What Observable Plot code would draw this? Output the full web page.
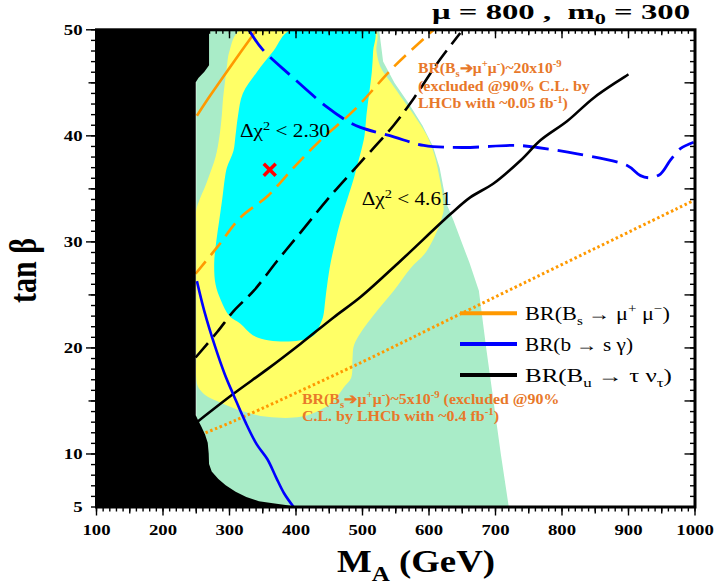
<!DOCTYPE html>
<html><head><meta charset="utf-8">
<script src="https://cdn.jsdelivr.net/npm/d3@7"></script>
<script src="https://cdn.jsdelivr.net/npm/@observablehq/plot@0.6"></script>
<style>body{margin:0;background:#fff}#chart{width:718px;height:587px}</style>
</head><body><div id="chart"></div>
<script>
// ---------- data (M_A in GeV, tan beta) ----------
const xDomain = [100, 1000];
const yDomain = [5, 50];
const xTickLabels = [100, 200, 300, 400, 500, 600, 700, 800, 900, 1000];
const xMajor = [100, 200, 300, 400, 500, 600, 700, 800, 900, 1000];
const xMid = [150, 250, 350, 450, 550, 650, 750, 850, 950];
const xMinor = d3.range(100, 1001, 10);
const yTickLabels = [5, 10, 20, 30, 40, 50];
const yMajor = [10, 20, 30, 40, 50];
const yMid = [15, 25, 35, 45];
const yMinor = d3.range(5, 51, 1);

// regions: [tanb, M_A left edge, M_A right edge]
const greenRows = [[50,250,525],[47,250,531],[45,250,548],[43,250,570],[41,250,590],[39,250,606],[37,250,616],[35,250,622],[33.5,250,627],[32,250,637],[30,250,649],[28,250,661],[25.4,250,675],[20,250,686],[15,250,697],[10,250,708],[5,250,720]];
const yellowRows = [[50,317,519],[48,300,521],[46.5,296,527],[45,293,543],[43.3,290,562],[42,288.5,577],[40,285,597],[38,279,609],[36,268,616],[35,262,619],[34,255,621],[33,250,622],[32,250,618],[31,250,612],[29,250,595],[27.5,250,572],[25.4,250,547],[23.5,250,522],[21.4,250,497],[20.2,250,487],[19,250,485],[17.2,250,483],[16.3,253,472],[15.5,265,463],[15,281,457],[14.1,316,435],[13.5,357,407]];
const cyanRows = [[50,392,517],[48,366,516],[46,341,514],[44,320,510],[42,313,506],[40,309,503],[38.6,306,498],[37,296,491],[36,293,487],[34,289,477],[32,284.5,467],[30,280,459],[28,277,452],[26,279,447],[24.5,287,444],[23,300,441],[22.3,316,437],[21.2,335,427],[20.7,360,405]];
// excluded region: [tanb, M_A right edge]
const blackRows = [[50,270],[46.6,270],[46.0,263],[45.4,254],[45.0,250],[13.6,250],[13.2,253],[12.6,258],[11.8,264],[11.0,268],[10.0,269.5],[9.0,270],[8.3,274],[7.6,284],[7.0,295],[6.4,310],[5.9,326],[5.5,345],[5.3,366],[5.15,385],[5.0,397]];

// curves: [M_A, tanb]
const orangeSolid = [[251,41.9],[271,43.8],[301,46.5],[341,50]];
const orangeDashed = [[249,27],[281.5,29.5],[316.5,32.3],[357,34.3],[396.5,37],[437,39.6],[487,42.4],[547,46.5],[607,50]];
const orangeDotted = [[264,12.0],[306.5,13.1],[497,18.6],[647,23.2],[998,33.9]];
const blueSolid = [[251,26.3],[262,23.5],[279,20],[293,17.5],[306.5,15.5],[324,13],[341,10.9],[357,9.5],[370,7.8],[382,6.3],[396.5,5]];
const blueDashed = [[329,50],[349,48.2],[391.7,45.7],[446.8,42.7],[477,41.4],[497,40.8],[547,39.9],[592,39.1],[650,38.9],[732,39.1],[763,38.9],[823,38.3],[898,37.2],[918,36.25],[933,36.05],[948,36.4],[963,37.7],[978,38.8],[998,39.4]];
const blackSolid = [[251,13.0],[306.5,15.7],[357,18],[407,20.4],[457,22.9],[497,24.8],[557,28.2],[632,32.6],[662,34.2],[697,35.5],[738,37.7],[768,39.6],[808,41.4],[848,43.6],[900,45.8]];
const blackDashed = [[249,19.1],[281.5,21.5],[306.5,23.5],[336.6,25.4],[371.6,28.2],[407,30.9],[450,34.2],[497,37.5],[547,41.0],[580,43.8],[612,46.8],[647,49.7]];
const bestFit = [[360.5, 36.8]];

// annotation anchors: [M_A, tanb of baseline]
const chi1Pos = [316.5, 39.84];
const chi2Pos = [499.5, 33.42];
const bsTopPos = [584.2, [45.91, 44.21, 42.55]];
const bsBotPos = [409.8, [14.65, 13.08]];

// ---------- styles ----------
const FONT = "'Liberation Serif','Times New Roman',serif";
const GREEN = "#a9ecc8", YELLOW = "#ffff66", CYAN = "#00ffff";
const ORANGE = "#ff9900", OTEXT = "#e8782a", BLUE = "#0000ff";
const W = 718, H = 587, ML = 96, MR = 23.5, MT = 29.3, MB = 80.5;
const FW = W - ML - MR, FH = H - MT - MB;
const X = d => d[0], Y = d => d[1];

// rows -> closed outline (left edge downwards, right edge upwards)
const outline = rows => [...rows.map(r => [r[1], r[0]]), ...rows.slice().reverse().map(r => [r[2], r[0]])];
const region = (rows, fill, curve) => Plot.line(outline(rows), {x: X, y: Y, fill, stroke: "none", curve, clip: true});

const tk = {stroke: "black", strokeWidth: 1.4};
const ln = {strokeLinecap: "butt", strokeLinejoin: "round", curve: "catmull-rom"};
const chart = Plot.plot({
  width: W, height: H,
  marginLeft: ML, marginRight: MR, marginTop: MT, marginBottom: MB,
  x: {domain: xDomain, axis: null},
  y: {domain: yDomain, axis: null},
  style: {background: "white", fontFamily: FONT},
  marks: [
    region(greenRows, GREEN, "linear-closed"),
    region(yellowRows, YELLOW, "catmull-rom-closed"),
    region(cyanRows, CYAN, "catmull-rom-closed"),
    Plot.line(orangeDotted, {x: X, y: Y, stroke: ORANGE, strokeWidth: 3, strokeDasharray: "2.5,2.6", ...ln}),
    Plot.line(orangeDashed, {x: X, y: Y, stroke: ORANGE, strokeWidth: 2.6, strokeDasharray: "16,8", ...ln}),
    Plot.line(orangeSolid, {x: X, y: Y, stroke: ORANGE, strokeWidth: 2.6, ...ln}),
    Plot.line(blueDashed, {x: X, y: Y, stroke: BLUE, strokeWidth: 2.8, strokeDasharray: "26,9", ...ln}),
    Plot.line(blackDashed, {x: X, y: Y, stroke: "black", strokeWidth: 2.6, strokeDasharray: "19,8", ...ln}),
    Plot.line(blackSolid, {x: X, y: Y, stroke: "black", strokeWidth: 2.6, ...ln}),
    Plot.line(blueSolid, {x: X, y: Y, stroke: BLUE, strokeWidth: 2.6, ...ln}),
    Plot.areaX(blackRows, {y: d => d[0], x1: () => xDomain[0], x2: d => d[1], fill: "black", curve: "linear"}),
    Plot.dot(bestFit, {x: X, y: Y, symbol: "times", r: 5.5, stroke: "#ff0000", strokeWidth: 3.5}),
    // bottom ticks (outward)
    Plot.tickX(xMinor, {x: d => d, insetTop: FH - 5, dy: 5, ...tk}),
    Plot.tickX(xMid, {x: d => d, insetTop: FH - 7, dy: 7, ...tk}),
    Plot.tickX(xMajor, {x: d => d, insetTop: FH - 9, dy: 9, ...tk}),
    // top ticks (inward)
    Plot.tickX(xMinor, {x: d => d, insetBottom: FH - 4.5, ...tk}),
    Plot.tickX(xMid, {x: d => d, insetBottom: FH - 6, ...tk}),
    Plot.tickX(xMajor, {x: d => d, insetBottom: FH - 9, ...tk}),
    // left ticks (outward)
    Plot.tickY(yMinor, {y: d => d, insetRight: FW - 5, dx: -5, ...tk}),
    Plot.tickY(yMid, {y: d => d, insetRight: FW - 7.5, dx: -7.5, ...tk}),
    Plot.tickY(yMajor, {y: d => d, insetRight: FW - 10, dx: -10, ...tk}),
    // right ticks (inward)
    Plot.tickY(yMinor, {y: d => d, insetLeft: FW - 4.5, ...tk}),
    Plot.tickY([...yMid, ...yMajor], {y: d => d, insetLeft: FW - 10, ...tk}),
    Plot.frame({stroke: "black", strokeWidth: 3}),
    Plot.text(xTickLabels, {x: d => d, text: d => String(d), frameAnchor: "bottom", dy: 23.5, lineAnchor: "middle", textAnchor: "middle", fontSize: 15, fontWeight: "bold", fill: "black"}),
    Plot.text(yTickLabels, {y: d => d, text: d => String(d), frameAnchor: "left", dx: -14, lineAnchor: "middle", textAnchor: "end", fontSize: 15, fontWeight: "bold", fill: "black"})
  ]
});
document.getElementById("chart").append(chart);

const svg = d3.select(chart);
// the reference's lettering is horizontally widened
svg.selectAll('g[aria-label="text"] text').each(function () {
  const L = this.getComputedTextLength();
  this.setAttribute("textLength", L * 1.25);
  this.setAttribute("lengthAdjust", "spacingAndGlyphs");
});

const sx = v => chart.scale("x").apply(v);
const sy = v => chart.scale("y").apply(v);

function rich(t, parts, fs) {
  let shift = 0;
  for (const p of parts) {
    const [s, k] = Array.isArray(p) ? p : [p, ""];
    const target = k === "sub" ? 0.28 * fs : k === "sup" ? -0.38 * fs : 0;
    const ts = t.append("tspan").text(s).attr("dy", target - shift);
    if (k) ts.attr("font-size", 0.68 * fs);
    shift = target;
  }
}
function addText(px, py, parts, o) {
  const g = svg.append("g").attr("transform", `translate(${px},${py})`);
  const inner = g.append("g");
  const t = inner.append("text")
    .attr("font-family", FONT).attr("font-size", o.size)
    .attr("font-weight", o.weight || "normal").attr("fill", o.fill || "black")
    .attr("text-anchor", o.anchor || "start");
  if (o.rotate) t.attr("transform", `rotate(${o.rotate})`);
  rich(t, parts, o.size);
  let s = o.scale || 1.25;
  if (o.width) s = o.width / t.node().getComputedTextLength();
  inner.attr("transform", `scale(${s},1)`);
  return g;
}

// title and axis titles
addText(690, 18.5, ["\u03bc = 800 ,  m", ["0", "sub"], " = 300"], {size: 21, weight: "bold", anchor: "end", width: 258});
addText(337, 572, ["M", ["A", "sub"], " (GeV)"], {size: 32, weight: "bold", width: 158});
addText(36, 270.5, ["tan \u03b2"], {size: 30, weight: "bold", anchor: "middle", rotate: -90, scale: 1.25});

// contour labels
addText(sx(chi1Pos[0]), sy(chi1Pos[1]), ["\u0394\u03c7", ["2", "sup"], " < 2.30"], {size: 18, width: 90});
addText(sx(chi2Pos[0]), sy(chi2Pos[1]), ["\u0394\u03c7", ["2", "sup"], " < 4.61"], {size: 18, width: 90});

// orange annotations
const ob = {size: 15, weight: "bold", fill: OTEXT};
addText(sx(bsTopPos[0]), sy(bsTopPos[1][0]), ["BR(B", ["s", "sub"], "\u2794\u03bc", ["+", "sup"], "\u03bc", ["-", "sup"], ")~20x10", ["-9", "sup"]], {...ob, width: 144});
addText(sx(bsTopPos[0]), sy(bsTopPos[1][1]), ["(excluded @90% C.L. by"], {...ob, width: 172});
addText(sx(bsTopPos[0]), sy(bsTopPos[1][2]), ["LHCb with ~0.05 fb", ["-1", "sup"], ")"], {...ob, width: 150});
addText(sx(bsBotPos[0]), sy(bsBotPos[1][0]), ["BR(B", ["s", "sub"], "\u2794\u03bc", ["+", "sup"], "\u03bc", ["-", "sup"], ")~5x10", ["-9", "sup"], " (excluded @90%"], {...ob, width: 258});
addText(sx(bsBotPos[0]), sy(bsBotPos[1][1]), ["C.L. by LHCb with ~0.4 fb", ["-1", "sup"], ")"], {...ob, width: 197});

// legend
const legend = [
  {color: ORANGE, y: 313.3, parts: ["BR(B", ["s", "sub"], " \u2192 \u03bc", ["+", "sup"], " \u03bc", ["\u2212", "sup"], ")"], w: 145},
  {color: BLUE, y: 344, parts: ["BR(b \u2192 s \u03b3)"], w: 108},
  {color: "black", y: 375, parts: ["BR(B", ["u", "sub"], " \u2192 \u03c4 \u03bd", ["\u03c4", "sub"], ")"], w: 147}
];
for (const L of legend) {
  svg.append("line").attr("x1", 460).attr("x2", 517).attr("y1", L.y).attr("y2", L.y)
    .attr("stroke", L.color).attr("stroke-width", 4);
  addText(525, L.y + 6.5, L.parts, {size: 18, width: L.w});
}
</script>
</body></html>
